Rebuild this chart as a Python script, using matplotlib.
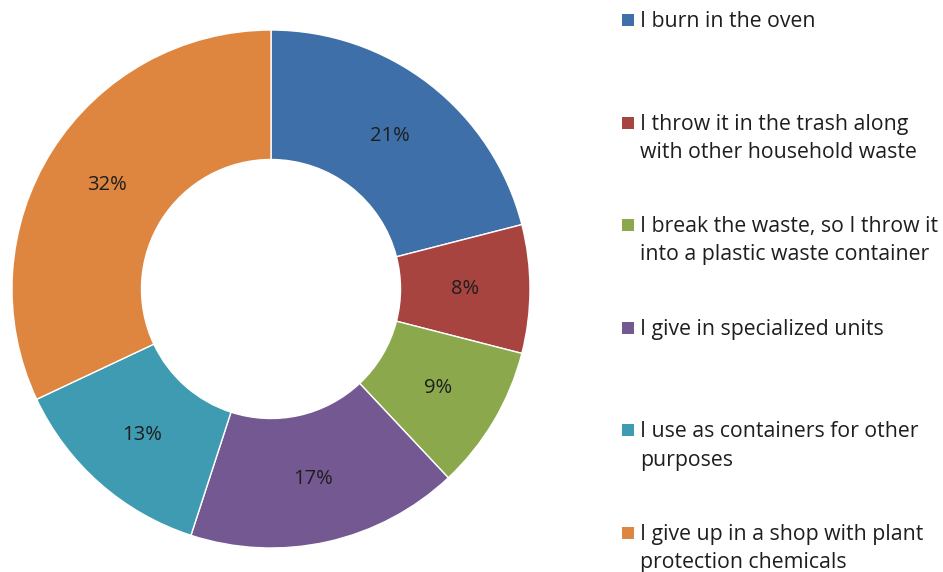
import matplotlib.pyplot as plt
from matplotlib.patches import Rectangle

# Survey answers, share of respondents (%)
labels = [
    "I burn in the oven",
    "I throw it in the trash along\nwith other household waste",
    "I break the waste, so I throw it\ninto a plastic waste container",
    "I give in specialized units",
    "I use as containers for other\npurposes",
    "I give up in a shop with plant\nprotection chemicals",
]
shares = [21, 8, 9, 17, 13, 32]
colors = ["#3F6FA8", "#A84440", "#8BA84C", "#735891", "#3E9BB1", "#DE8540"]

plt.rcParams['font.family'] = ['Open Sans', 'DejaVu Sans']

W, H = 943, 572
fig = plt.figure(figsize=(W / 100, H / 100), dpi=100)

# donut centred at (271, 289) px, radius 259 px
cx, cy, r = 271, 289, 259
ax = fig.add_axes([(cx - r) / W, (H - cy - r) / H, 2 * r / W, 2 * r / H])
wedges, texts = ax.pie(shares, colors=colors, startangle=90, counterclock=False,
                       radius=1.0, labels=[f"{v}%" for v in shares],
                       labeldistance=0.75,
                       wedgeprops=dict(width=0.5, edgecolor='white', linewidth=1),
                       textprops=dict(fontsize=14.5, color='#1e1e1e'))
for t in texts:
    t.set_horizontalalignment('center')
    t.set_verticalalignment('center')
ax.set_xlim(-1, 1)
ax.set_ylim(-1, 1)
ax.set_aspect('equal')
ax.axis('off')

# legend drawn by hand so markers line up with the first text line
x0 = 622
y0 = 20
step = 102.6
sq = 12
for i, (lab, col) in enumerate(zip(labels, colors)):
    yc = y0 + i * step
    fig.patches.append(Rectangle((x0 / W, (H - yc - sq / 2) / H), sq / W, sq / H,
                                 transform=fig.transFigure, facecolor=col,
                                 edgecolor='none'))
    fig.text((x0 + 18) / W, (H - yc + 9) / H, lab, fontsize=15.3, color='#1e1e1e',
             va='top', ha='left', linespacing=1.45)

fig.savefig("out.png", dpi=100)
